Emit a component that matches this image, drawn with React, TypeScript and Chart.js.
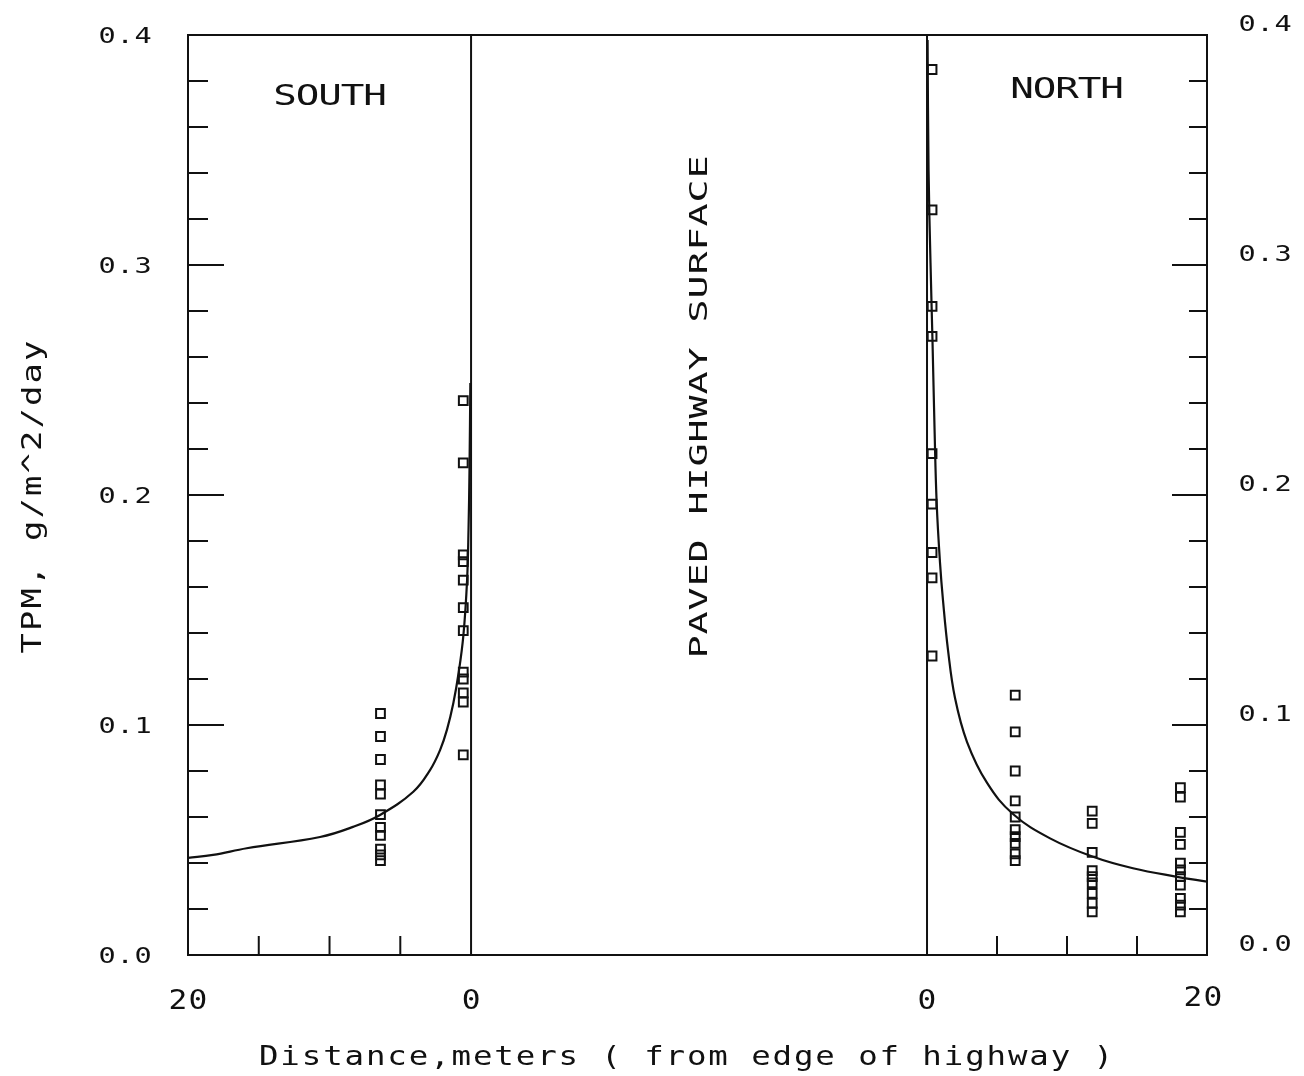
import { useEffect, useRef } from 'react';
import { Chart, registerables } from 'chart.js';

Chart.register(...registerables);

// Total particulate matter deposition beside a paved highway.
// Distances are metres from the pavement edge, TPM in g/m^2/day.

// South side, sampler columns
const southNearDist = 0.55;
const southNearTpm = [0.241, 0.214, 0.174, 0.171, 0.163, 0.151, 0.141, 0.123, 0.12, 0.114, 0.11, 0.087];
const southMidDist = 6.4;
const southMidTpm = [0.105, 0.095, 0.085, 0.074, 0.07, 0.061, 0.0555, 0.052, 0.046, 0.0435, 0.041];

// South side fitted curve (far to near)
const southCurveDist = [20, 18.23, 15.85, 10.67, 8.34, 6.43, 4.08, 2.9, 2.19, 1.7, 1.25, 0.88, 0.54, 0.28, 0.18, 0.11, 0.05];
const southCurveTpm = [0.0422, 0.0435, 0.0464, 0.0513, 0.0557, 0.0609, 0.071, 0.0804, 0.0891, 0.098, 0.1096, 0.1226, 0.1391, 0.163, 0.1848, 0.2109, 0.2487];

// North side, sampler columns
const northNearDist = 0.36;
const northNearTpm = [0.385, 0.324, 0.282, 0.269, 0.218, 0.196, 0.175, 0.164, 0.13];
const northMidDist = 6.3;
const northMidTpm = [0.113, 0.097, 0.08, 0.067, 0.06, 0.0545, 0.0515, 0.0485, 0.044, 0.041];
const northFarDist = 11.8;
const northFarTpm = [0.0626, 0.0572, 0.0446, 0.0367, 0.0341, 0.0314, 0.0268, 0.0225, 0.0188];
const northEdgeDist = 18.1;
const northEdgeTpm = [0.0728, 0.0686, 0.0533, 0.0481, 0.0399, 0.037, 0.0341, 0.0304, 0.0246, 0.0217, 0.0188];

// North side fitted curve (near to far)
const northCurveDist = [0.04, 0.11, 0.25, 0.39, 0.54, 0.69, 0.93, 1.14, 1.5, 2.0, 2.86, 4.29, 6.14, 8.79, 11.86, 14.71, 17.86, 20];
const northCurveTpm = [0.3978, 0.3413, 0.3009, 0.2674, 0.2283, 0.1965, 0.1704, 0.1543, 0.1326, 0.1117, 0.0926, 0.0748, 0.0613, 0.0507, 0.0427, 0.0377, 0.034, 0.0319];

// Axis annotations
const yTickValues = [0, 0.1, 0.2, 0.3, 0.4];
const yTickLabels = ['0.0', '0.1', '0.2', '0.3', '0.4'];
const xLabelDist = [20, 0];
const xLabelText = ['20', '0'];
const xMinorDist = [5, 10, 15];

const INK = '#111';
const FONT = '"DejaVu Sans Mono", "Liberation Mono", monospace';

const column = (d: number, vals: number[]) => vals.map((v) => ({ x: d, y: v }));
const curve = (ds: number[], vs: number[]) => ds.map((d, i) => ({ x: d, y: vs[i] }));

type TextOpts = { size: number; adv: number; stretch: number; rot?: number };

// Monospaced plotter-style lettering: each glyph placed on a fixed pitch.
function plotText(ctx: CanvasRenderingContext2D, text: string, cx: number, cy: number, o: TextOpts) {
  ctx.save();
  ctx.translate(cx, cy);
  if (o.rot) ctx.rotate(o.rot);
  ctx.font = `${o.size}px ${FONT}`;
  ctx.fillStyle = INK;
  ctx.textAlign = 'center';
  ctx.textBaseline = 'alphabetic';
  const n = text.length;
  const base = o.size * 0.365;
  for (let i = 0; i < n; i++) {
    const ch = text[i];
    if (ch === ' ') continue;
    ctx.save();
    ctx.translate((i - (n - 1) / 2) * o.adv, base);
    ctx.scale(o.stretch, 1);
    ctx.fillText(ch, 0, 0);
    ctx.restore();
  }
  ctx.restore();
}

const framePlugin = {
  id: 'plotterFrame',
  beforeDatasetsDraw(chart: any) {
    const { ctx, chartArea: a, scales } = chart;
    const y = scales.y;
    const xs = scales.xS;
    const xn = scales.xN;
    ctx.save();
    ctx.strokeStyle = INK;
    ctx.lineWidth = 2;
    ctx.lineCap = 'square';
    const seg = (x1: number, y1: number, x2: number, y2: number) => {
      ctx.beginPath();
      ctx.moveTo(x1, y1);
      ctx.lineTo(x2, y2);
      ctx.stroke();
    };
    ctx.strokeRect(a.left, a.top, a.right - a.left, a.bottom - a.top);

    // pavement edges
    const s0 = xs.getPixelForValue(0);
    const n0 = xn.getPixelForValue(0);
    seg(s0, a.top, s0, a.bottom);
    seg(n0, a.top, n0, a.bottom);

    // inward y ticks on both sides, every 0.02, longer at each 0.1
    for (let i = 1; i < 20; i++) {
      const py = y.getPixelForValue(i * 0.02);
      const major = i % 5 === 0;
      seg(a.left, py, a.left + (major ? 35 : 19), py);
      seg(a.right, py, a.right - (major ? 34 : 17), py);
    }

    // inward distance ticks
    xMinorDist.forEach((d) => {
      const ps = xs.getPixelForValue(d);
      const pn = xn.getPixelForValue(d);
      seg(ps, a.bottom, ps, a.bottom - 18);
      seg(pn, a.bottom, pn, a.bottom - 18);
    });
    ctx.restore();

    // y tick labels
    const yt: TextOpts = { size: 22, adv: 18, stretch: 1.3 };
    yTickValues.forEach((v, i) => {
      const py = y.getPixelForValue(v);
      plotText(ctx, yTickLabels[i], a.left - 63, py, yt);
      plotText(ctx, yTickLabels[i], a.right + 58, py - 12, yt);
    });

    // distance labels
    const xt: TextOpts = { size: 26, adv: 20, stretch: 1.2 };
    xLabelDist.forEach((d, i) => {
      plotText(ctx, xLabelText[i], xs.getPixelForValue(d), a.bottom + 45, xt);
      plotText(ctx, xLabelText[i], xn.getPixelForValue(d) - (d > 0 ? 4 : 0), a.bottom + (d > 0 ? 42 : 45), xt);
    });

    // titles
    plotText(ctx, 'Distance,meters ( from edge of highway )', 686, a.bottom + 100, { size: 27, adv: 21.4, stretch: 1.2 });
    plotText(ctx, 'TPM, g/m^2/day', 31, 497, { size: 27, adv: 22.5, stretch: 1.25, rot: -Math.PI / 2 });
    plotText(ctx, 'SOUTH', 330, 95, { size: 28, adv: 22.5, stretch: 1.4 });
    plotText(ctx, 'NORTH', 1067, 88, { size: 28, adv: 22.5, stretch: 1.4 });
    plotText(ctx, 'PAVED HIGHWAY SURFACE', 698, 407, { size: 24, adv: 24, stretch: 1.6, rot: -Math.PI / 2 });
  },
};

const squareStyle = {
  type: 'scatter' as const,
  pointStyle: 'rect' as const,
  pointRadius: 6.2,
  pointBorderWidth: 2,
  pointBackgroundColor: 'rgba(0,0,0,0)',
  pointBorderColor: INK,
  showLine: false,
};

const curveStyle = {
  type: 'line' as const,
  borderColor: INK,
  borderWidth: 2.2,
  pointRadius: 0,
  fill: false,
  tension: 0.4,
};

export default function App() {
  const ref = useRef<HTMLCanvasElement>(null);

  useEffect(() => {
    if (!ref.current) return;
    const chart = new Chart(ref.current, {
      type: 'scatter',
      data: {
        datasets: [
          { ...curveStyle, label: 'South fit', xAxisID: 'xS', yAxisID: 'y', data: curve(southCurveDist, southCurveTpm) },
          { ...curveStyle, label: 'North fit', xAxisID: 'xN', yAxisID: 'y', data: curve(northCurveDist, northCurveTpm) },
          { ...squareStyle, label: 'South 0.5 m', xAxisID: 'xS', yAxisID: 'y', data: column(southNearDist, southNearTpm) },
          { ...squareStyle, label: 'South 6 m', xAxisID: 'xS', yAxisID: 'y', data: column(southMidDist, southMidTpm) },
          { ...squareStyle, label: 'North 0.4 m', xAxisID: 'xN', yAxisID: 'y', data: column(northNearDist, northNearTpm) },
          { ...squareStyle, label: 'North 6 m', xAxisID: 'xN', yAxisID: 'y', data: column(northMidDist, northMidTpm) },
          { ...squareStyle, label: 'North 12 m', xAxisID: 'xN', yAxisID: 'y', data: column(northFarDist, northFarTpm) },
          { ...squareStyle, label: 'North 18 m', xAxisID: 'xN', yAxisID: 'y', data: column(northEdgeDist, northEdgeTpm) },
        ] as any,
      },
      options: {
        responsive: false,
        animation: false,
        events: [],
        layout: { padding: { left: 188, top: 35, right: 97, bottom: 121 } },
        plugins: {
          legend: { display: false },
          title: { display: false },
          tooltip: { enabled: false },
        },
        scales: {
          // south distances run right-to-left from the left frame
          xS: { type: 'linear', display: false, reverse: true, min: -52.0, max: 20 },
          // north distances run left-to-right up to the right frame
          xN: { type: 'linear', display: false, min: -52.79, max: 20 },
          y: { type: 'linear', display: false, min: 0, max: 0.4 },
        },
      },
      plugins: [framePlugin],
    });
    return () => chart.destroy();
  }, []);

  return (
    <div style={{ position: 'absolute', left: 0, top: 0, width: 1304, height: 1076, background: '#fff' }}>
      <canvas ref={ref} width={1304} height={1076} style={{ display: 'block' }} />
    </div>
  );
}
